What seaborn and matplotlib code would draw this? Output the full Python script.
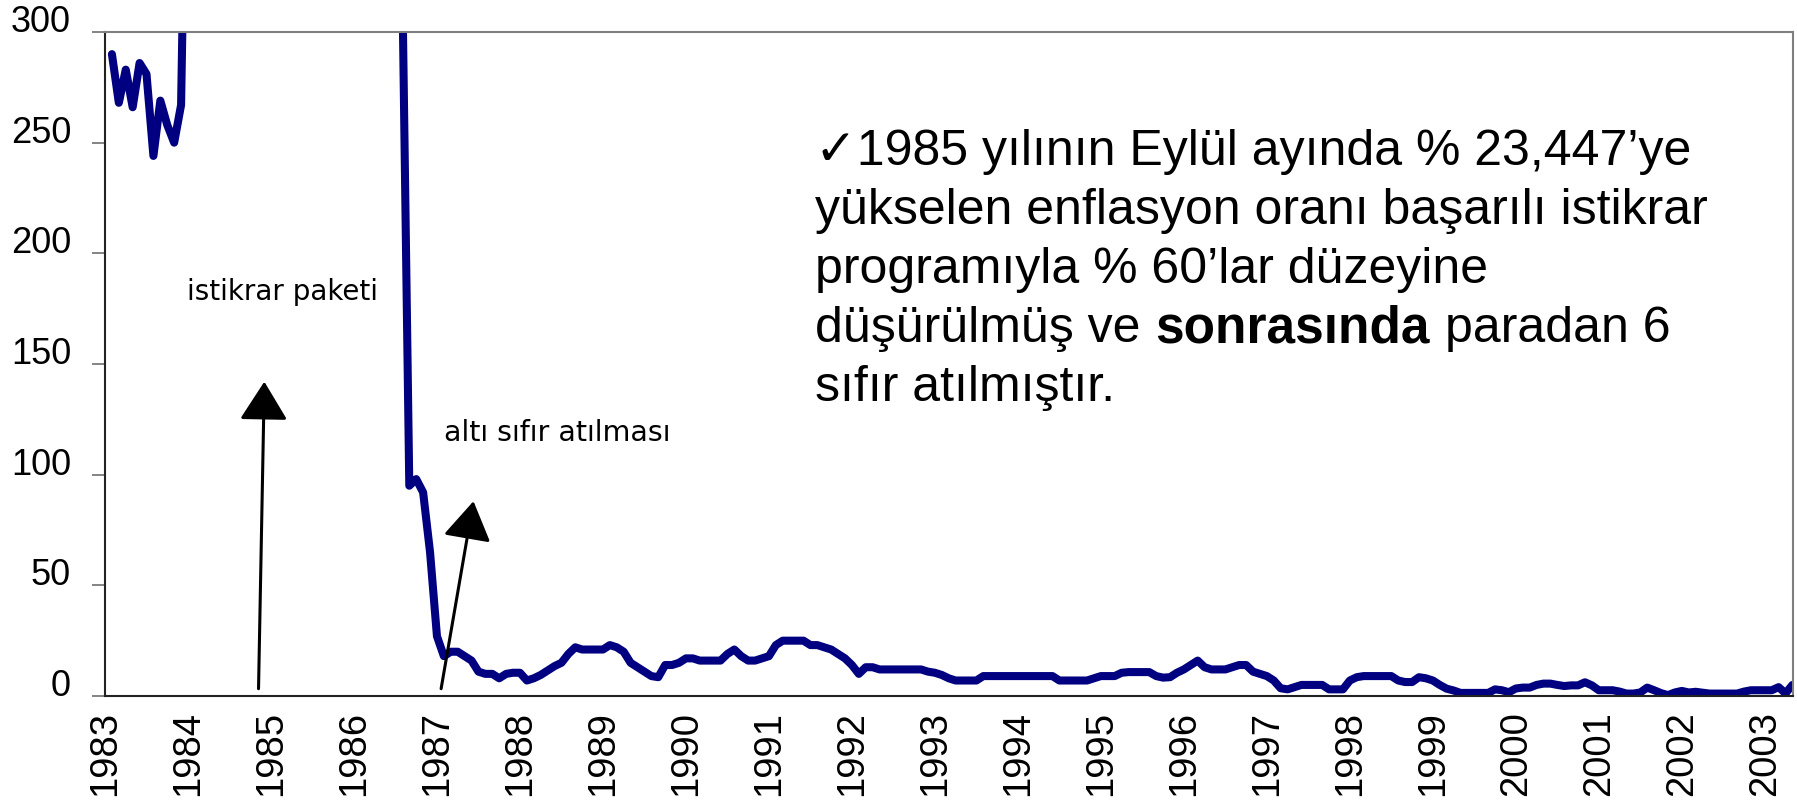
import pandas as pd
import matplotlib
matplotlib.use('Agg')
import matplotlib.pyplot as plt
import seaborn as sns

sns.set_theme(style='white')
plt.rcParams['font.family'] = ['Liberation Sans', 'DejaVu Sans']
plt.rcParams['text.color'] = 'black'

# aylık enflasyon (%) - Şubat 1983'ten Mayıs 2003'e
v1983 = [290, 268, 283, 266, 286, 281, 244, 269, 258, 250, 267]
v1984 = [450, 600, 800, 1000, 1100, 1200, 1300, 1400, 1500, 1800, 2177, 2800]
v1985 = [3500, 4500, 6000, 8000, 10000, 14000, 20000, 22000, 23447, 15000, 8170, 6000]
v1986 = [4000, 2800, 1800, 1200, 900, 600, 450, 320, 95, 98, 92, 65]
v1987 = [27, 18, 20, 20, 18, 16, 11, 10, 10, 8, 10, 10.5]
v1988 = [10.5, 7, 8, 9.5, 11.5, 13.5, 15, 19, 22, 21, 21, 21]
v1989 = [21, 23, 22, 20, 15, 13, 11, 9, 8.5, 14, 14, 15]
v1990 = [17, 17, 16, 16, 16, 16, 19, 21, 18, 16, 16, 17]
v1991 = [18, 23, 25, 25, 25, 25, 23, 23, 22, 21, 19, 17]
v1992 = [14, 10, 13, 13, 12, 12, 12, 12, 12, 12, 12, 11]
v1993 = [10.5, 9.5, 8, 7, 7, 7, 7, 9, 9, 9, 9, 9]
v1994 = [9, 9, 9, 9, 9, 9, 7, 7, 7, 7, 7, 8]
v1995 = [9, 9, 9, 10.5, 10.8, 10.8, 10.8, 10.8, 9, 8.3, 8.5, 10.5]
v1996 = [12, 14, 16, 13, 12, 12, 12, 13, 14, 14, 11, 10]
v1997 = [9, 7, 3.5, 3, 4, 5, 5, 5, 5, 3, 3, 3]
v1998 = [7, 8.5, 9, 9, 9, 9, 9, 7, 6.3, 6.3, 8.5, 8]
v1999 = [7, 5, 3.3, 2.5, 1.4, 1.4, 1.4, 1.4, 1.4, 3, 2.6, 1.7]
v2000 = [3.4, 3.8, 3.8, 5, 5.6, 5.6, 5, 4.5, 4.8, 4.8, 6.2, 4.8]
v2001 = [2.6, 2.6, 2.6, 2, 1.1, 1.1, 1.6, 3.8, 2.6, 1.3, 0.4, 1.6]
v2002 = [2.3, 1.6, 1.9, 1.5, 1.1, 1.1, 1.1, 1.1, 1.1, 2, 2.6, 2.6]
v2003 = [2.6, 2.6, 4, 1.2, 5]

yillar = list(range(1983, 2004))
metin = ['\u27131985 yılının Eylül ayında % 23,447’ye',
         'yükselen enflasyon oranı başarılı istikrar',
         'programıyla % 60’lar düzeyine',
         'düşürülmüş ve', 'sonrasında', 'paradan 6',
         'sıfır atılmıştır.']

degerler = (v1983 + v1984 + v1985 + v1986 + v1987 + v1988 + v1989 + v1990 + v1991
            + v1992 + v1993 + v1994 + v1995 + v1996 + v1997 + v1998 + v1999
            + v2000 + v2001 + v2002 + v2003)
tarih = pd.date_range('1983-02-01', periods=len(degerler), freq='MS')
df = pd.DataFrame({'t': tarih.year + (tarih.month - 1) / 12, 'enf': degerler})

W, H = 1797, 807
fig = plt.figure(figsize=(W / 100, H / 100), dpi=100)
ax = fig.add_axes([105 / W, 1 - 696 / H, (1793 - 105) / W, (696 - 32) / H])

sns.lineplot(data=df, x='t', y='enf', ax=ax, color='#000080', lw=5.8,
             solid_joinstyle='round', solid_capstyle='round')

ax.set_xlim(df['t'].iloc[0], 2003.34)
ax.set_ylim(0, 300)
ax.set_xticks(yillar)
ax.set_xticklabels([str(y) for y in yillar], rotation=90)
ax.set_yticks(range(0, 301, 50))
ax.set_xlabel('')
ax.set_ylabel('')
ax.tick_params(axis='x', length=0, pad=11, labelsize=27.5, colors='black')
ax.tick_params(axis='y', left=True, length=9.4, width=1.2, color='#707070',
               pad=15, labelsize=26, labelcolor='black')
plt.setp(ax.get_yticklabels(), va='baseline')

for s in ['left', 'bottom']:
    ax.spines[s].set_color('#222222')
    ax.spines[s].set_linewidth(1.5)
for s in ['top', 'right']:
    ax.spines[s].set_color('#808080')
    ax.spines[s].set_linewidth(1.5)

# oklar
ok = dict(arrowstyle='-|>,head_length=0.8,head_width=0.5', mutation_scale=30,
          lw=2.2, color='black', shrinkA=0, shrinkB=0)
ax.annotate('', xy=(1984.92, 142), xytext=(1984.85, 3.3), arrowprops=ok)
ax.annotate('', xy=(1987.44, 88), xytext=(1987.05, 3.3), arrowprops=ok)

ax.text(1983.99, 179, 'istikrar paketi', fontsize=20, family='DejaVu Sans',
        va='baseline')
ax.text(1987.08, 115, 'altı sıfır atılması', fontsize=20.5, family='DejaVu Sans',
        va='baseline')

# sağdaki açıklama
x0 = 0.4205
satir_y = [0.7997, 0.7108, 0.622, 0.5331, 0.4443]
fs = 36
ax.text(x0, satir_y[0], metin[0], transform=ax.transAxes, fontsize=fs, va='baseline')
ax.text(x0, satir_y[1], metin[1], transform=ax.transAxes, fontsize=fs, va='baseline')
ax.text(x0, satir_y[2], metin[2], transform=ax.transAxes, fontsize=fs, va='baseline')
ax.text(x0, satir_y[4], metin[6], transform=ax.transAxes, fontsize=fs, va='baseline')

bosluk = 0.3 * fs * 100 / 72
fig.canvas.draw()
r = fig.canvas.get_renderer()
xx = x0
for parca, kalin in [(metin[3], False), (metin[4], True), (metin[5], False)]:
    t = ax.text(xx, satir_y[3], parca, transform=ax.transAxes,
                fontsize=37 if kalin else fs, va='baseline',
                weight='bold' if kalin else 'normal')
    bb = t.get_window_extent(r)
    xx = ax.transAxes.inverted().transform((bb.x1 + bosluk, bb.y0))[0]

fig.savefig('out.png', dpi=100, facecolor='white')
